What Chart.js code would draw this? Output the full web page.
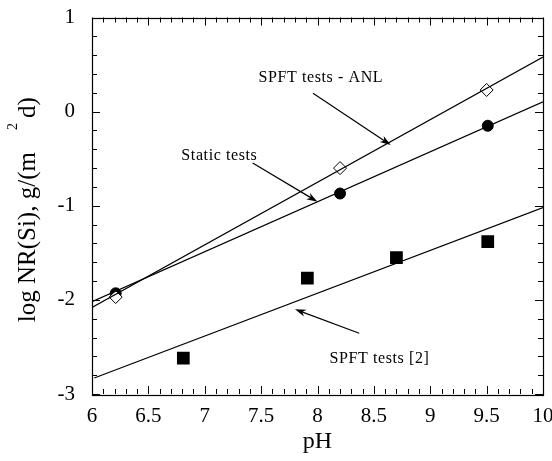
<!DOCTYPE html>
<html><head><meta charset="utf-8">
<script src="https://cdn.jsdelivr.net/npm/chart.js@4.4.0/dist/chart.umd.min.js"></script>
<style>html,body{margin:0;padding:0;background:#fff}#wrap{width:552px;height:461px}</style>
</head><body><div id="wrap"><canvas id="c" width="552" height="461"></canvas></div>
<script>
// ---- data ----
const anlPH = [6.21, 8.20, 9.50];
const anlRate = [-1.97, -0.60, 0.23];
const staticPH = [6.21, 8.20, 9.51];
const staticRate = [-1.93, -0.87, -0.15];
const spft2PH = [6.81, 7.91, 8.70, 9.51];
const spft2Rate = [-2.62, -1.77, -1.55, -1.38];
// fitted regression lines (end points)
const anlFitPH = [6.0, 10.0];
const anlFitRate = [-2.08, 0.58];
const staticFitPH = [6.0, 10.0];
const staticFitRate = [-2.02, 0.105];
const spft2FitPH = [6.02, 10.0];
const spft2FitRate = [-2.83, -1.02];
// tick labels
const xTicks = [6, 6.5, 7, 7.5, 8, 8.5, 9, 9.5, 10];
const yTicks = [-3, -2, -1, 0, 1];
// annotations (data coordinates)
const noteText = ['SPFT tests - ANL', 'Static tests', 'SPFT tests [2]'];
const noteX = [8.03, 7.13, 8.55];
const noteY = [0.36, -0.47, -2.63];
const arrowFromX = [7.96, 7.425, 8.37];
const arrowFromY = [0.195, -0.546, -2.355];
const arrowToX = [8.65, 8.0, 7.80];
const arrowToY = [-0.355, -0.957, -2.10];
const xTitle = 'pH';
const yTitleMain = 'log NR(Si), g/(m';
const yTitleSup = '2';
const yTitleEnd = 'd)';

const FONT = '"Liberation Serif", "Times New Roman", serif';
const pts = (xs, ys) => xs.map((x, i) => ({x, y: ys[i]}));

const framePlugin = {
  id: 'frame',
  afterDatasetsDraw(chart) {
    const {ctx, chartArea: a, scales: {x, y}} = chart;
    ctx.save();
    ctx.strokeStyle = '#000';
    ctx.lineWidth = 1.2;
    ctx.strokeRect(Math.round(a.left) + 0.5, Math.round(a.top) + 0.5,
      Math.round(a.right - a.left), Math.round(a.bottom - a.top));
    ctx.lineWidth = 1;
    ctx.beginPath();
    for (let i = 0; i <= 40; i++) {
      const v = 6 + i * 0.1;
      const px = Math.round(x.getPixelForValue(v)) + 0.5;
      const len = (i % 5 === 0) ? 8 : 5;
      ctx.moveTo(px, a.bottom); ctx.lineTo(px, a.bottom - len);
      ctx.moveTo(px, a.top); ctx.lineTo(px, a.top + len);
    }
    for (let i = 0; i <= 20; i++) {
      const v = -3 + i * 0.2;
      const py = Math.round(y.getPixelForValue(v)) + 0.5;
      const len = (i % 5 === 0) ? 8 : 5;
      ctx.moveTo(a.left, py); ctx.lineTo(a.left + len, py);
      ctx.moveTo(a.right, py); ctx.lineTo(a.right - len, py);
    }
    ctx.stroke();

    // annotations
    ctx.fillStyle = '#000';
    ctx.font = '16px ' + FONT;
    ctx.textAlign = 'center';
    ctx.textBaseline = 'middle';
    try { ctx.letterSpacing = '0.6px'; } catch (e) {}
    for (let i = 0; i < noteText.length; i++) {
      ctx.fillText(noteText[i], x.getPixelForValue(noteX[i]), y.getPixelForValue(noteY[i]));
      const x0 = x.getPixelForValue(arrowFromX[i]), y0 = y.getPixelForValue(arrowFromY[i]);
      const x1 = x.getPixelForValue(arrowToX[i]), y1 = y.getPixelForValue(arrowToY[i]);
      const ang = Math.atan2(y1 - y0, x1 - x0);
      ctx.beginPath();
      ctx.lineWidth = 1.2;
      ctx.moveTo(x0, y0); ctx.lineTo(x1 - 6 * Math.cos(ang), y1 - 6 * Math.sin(ang));
      ctx.stroke();
      const L = 11, W = 3.6;
      ctx.beginPath();
      ctx.moveTo(x1, y1);
      ctx.lineTo(x1 - L * Math.cos(ang) + W * Math.sin(ang), y1 - L * Math.sin(ang) - W * Math.cos(ang));
      ctx.lineTo(x1 - 0.7 * L * Math.cos(ang), y1 - 0.7 * L * Math.sin(ang));
      ctx.lineTo(x1 - L * Math.cos(ang) - W * Math.sin(ang), y1 - L * Math.sin(ang) + W * Math.cos(ang));
      ctx.closePath();
      ctx.fill();
    }
    try { ctx.letterSpacing = '0px'; } catch (e) {}

    // axis titles
    ctx.textAlign = 'center';
    ctx.textBaseline = 'alphabetic';
    ctx.font = '24px ' + FONT;
    ctx.fillText(xTitle, (a.left + a.right) / 2, 448);

    ctx.font = '25px ' + FONT;
    const w1 = ctx.measureText(yTitleMain).width;
    const w3 = ctx.measureText(yTitleEnd).width;
    ctx.font = '14px ' + FONT;
    const w2 = ctx.measureText(yTitleSup).width;
    const gap1 = 22, gap2 = 5;
    const total = w1 + gap1 + w2 + gap2 + w3;
    const cy = (a.top + a.bottom) / 2 + 4;
    ctx.translate(35, cy + total / 2);
    ctx.rotate(-Math.PI / 2);
    ctx.textAlign = 'left';
    ctx.font = '25px ' + FONT;
    ctx.fillText(yTitleMain, 0, 0);
    ctx.font = '14px ' + FONT;
    ctx.fillText(yTitleSup, w1 + gap1, -18);
    ctx.font = '25px ' + FONT;
    ctx.fillText(yTitleEnd, w1 + gap1 + w2 + gap2, 0);
    ctx.restore();
  }
};

new Chart(document.getElementById('c'), {
  type: 'scatter',
  data: {
    datasets: [
      {label: 'ANL fit', data: pts(anlFitPH, anlFitRate), showLine: true, pointRadius: 0,
       borderColor: '#000', borderWidth: 1.2},
      {label: 'Static fit', data: pts(staticFitPH, staticFitRate), showLine: true, pointRadius: 0,
       borderColor: '#000', borderWidth: 1.2},
      {label: 'SPFT [2] fit', data: pts(spft2FitPH, spft2FitRate), showLine: true, pointRadius: 0,
       borderColor: '#000', borderWidth: 1.2},
      {label: 'SPFT tests - ANL', data: pts(anlPH, anlRate), pointStyle: 'rectRot', pointRadius: 6.5,
       backgroundColor: '#fff', borderColor: '#000', borderWidth: 1},
      {label: 'Static tests', data: pts(staticPH, staticRate), pointStyle: 'circle', pointRadius: 5.5,
       backgroundColor: '#000', borderColor: '#000', borderWidth: 1},
      {label: 'SPFT tests [2]', data: pts(spft2PH, spft2Rate), pointStyle: 'rect', pointRadius: 9,
       backgroundColor: '#000', borderColor: '#000', borderWidth: 0}
    ]
  },
  options: {
    responsive: false, animation: false, devicePixelRatio: 1,
    layout: {padding: {top: 17.5, right: 8, bottom: 0, left: 0}},
    plugins: {legend: {display: false}, tooltip: {enabled: false}},
    scales: {
      x: {
        type: 'linear', min: 6, max: 10,
        afterBuildTicks: s => { s.ticks = xTicks.map(v => ({value: v})); },
        afterFit: s => { s.height = 67; s.paddingLeft = 0; s.paddingRight = 0; },
        grid: {display: false, drawTicks: false},
        border: {display: false},
        ticks: {color: '#000', font: {family: FONT, size: 21}, padding: 10, maxRotation: 0,
                autoSkip: false, callback: v => String(v)}
      },
      y: {
        type: 'linear', min: -3, max: 1,
        afterBuildTicks: s => { s.ticks = yTicks.map(v => ({value: v})); },
        afterFit: s => { s.width = 92; s.paddingTop = 0; s.paddingBottom = 0; },
        grid: {display: false, drawTicks: false},
        border: {display: false},
        ticks: {color: '#000', font: {family: FONT, size: 21}, padding: 17,
                autoSkip: false, callback: v => String(v)}
      }
    }
  },
  plugins: [framePlugin]
});
</script>
</body></html>
